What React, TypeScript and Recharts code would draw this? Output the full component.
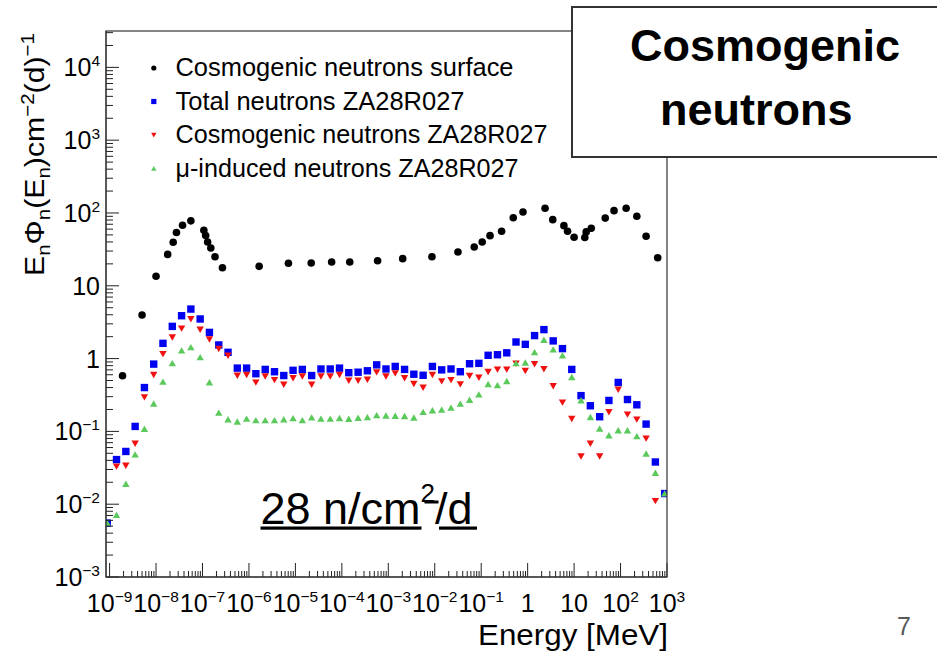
import React from 'react';
import { ScatterChart, Scatter, XAxis, YAxis } from 'recharts';

const FONT = '"Liberation Sans", Arial, Helvetica, sans-serif';

// Bin-centre energies (MeV) of the ZA28R027 histograms
const binEnergy = [
  8.91e-10, 1.41e-9, 2.24e-9, 3.55e-9, 5.62e-9,
  8.91e-9, 1.41e-8, 2.24e-8, 3.55e-8, 5.62e-8,
  8.91e-8, 1.41e-7, 2.24e-7, 3.55e-7, 5.62e-7,
  8.91e-7, 1.41e-6, 2.24e-6, 3.55e-6, 5.62e-6,
  8.91e-6, 1.41e-5, 2.24e-5, 3.55e-5, 5.62e-5,
  8.91e-5, 1.41e-4, 2.24e-4, 3.55e-4, 5.62e-4,
  8.91e-4, 1.41e-3, 2.24e-3, 3.55e-3, 5.62e-3,
  8.91e-3, 1.41e-2, 2.24e-2, 3.55e-2, 5.62e-2,
  8.91e-2, 0.141, 0.224, 0.355, 0.562,
  0.891, 1.41, 2.24, 3.55, 5.62,
  8.91, 14.1, 22.4, 35.5, 56.2,
  89.1, 141, 224, 355, 562,
  891,
];

const totalNeutrons = [
  0.0055, 0.041, 0.053, 0.117, 0.40, 0.84, 1.62, 2.77, 3.88, 4.79,
  3.5, 2.29, 1.54, 1.22, 0.74, 0.74, 0.62, 0.71, 0.66, 0.585,
  0.69, 0.71, 0.585, 0.72, 0.72, 0.74, 0.64, 0.65, 0.68, 0.82,
  0.72, 0.78, 0.71, 0.61, 0.59, 0.78, 0.70, 0.72, 0.66, 0.85,
  0.86, 1.11, 1.13, 1.2, 1.69, 1.57, 2.07, 2.5, 1.75, 1.37,
  0.71, 0.31, 0.225, 0.159, 0.266, 0.47, 0.274, 0.232, 0.126, 0.038,
  0.014,
];

const cosmogenicNeutrons = [
  null, 0.033, 0.034, 0.068, 0.295, 0.60, 1.16, 1.96, 2.6, 3.5,
  2.5, 1.84, 1.36, 1.1, 0.585, 0.60, 0.47, 0.57, 0.51, 0.44,
  0.54, 0.57, 0.44, 0.57, 0.57, 0.60, 0.50, 0.50, 0.515, 0.65,
  0.57, 0.63, 0.54, 0.45, 0.40, 0.60, 0.49, 0.51, 0.445, 0.58,
  0.55, 0.66, 0.71, 0.71, 0.855, 0.68, 0.84, 0.72, 0.42, 0.25,
  0.149, 0.0455, 0.068, 0.0455, 0.184, 0.376, 0.171, 0.146, 0.080, 0.0111,
  null,
];

const muInducedNeutrons = [
  0.0055, 0.0071, 0.019, 0.048, 0.108, 0.24, 0.48, 0.86, 1.29, 1.43,
  1.04, 0.47, 0.18, 0.146, 0.136, 0.149, 0.142, 0.142, 0.142, 0.146,
  0.151, 0.142, 0.155, 0.149, 0.149, 0.152, 0.148, 0.153, 0.156, 0.166,
  0.164, 0.163, 0.162, 0.154, 0.184, 0.194, 0.198, 0.211, 0.239, 0.27,
  0.32, 0.445, 0.43, 0.49, 0.86, 0.88, 1.22, 1.8, 1.33, 1.1,
  0.555, 0.266, 0.157, 0.109, 0.088, 0.103, 0.103, 0.0855, 0.0495, 0.0269,
  0.014,
];

// Surface cosmogenic spectrum
const surfaceEnergy = [
  1.9e-9, 5.0e-9, 1.0e-8, 1.78e-8, 2.34e-8, 2.75e-8, 3.72e-8, 5.62e-8,
  1.07e-7, 1.17e-7, 1.29e-7, 1.51e-7, 1.86e-7, 2.69e-7,
  1.66e-6, 7.08e-6, 2.19e-5, 6.03e-5, 1.48e-4, 5.89e-4, 2.04e-3, 8.71e-3,
  3.16e-2, 7.08e-2, 0.105, 0.155, 0.275, 0.49, 0.794,
  2.37, 3.47, 6.03, 7.24, 10.0, 17.0, 18.2, 23.4, 46.8, 72.4, 132, 224, 355, 631,
];
const surfaceFlux = [
  0.58, 3.97, 13.5, 27, 39.6, 54, 68, 78,
  58, 49, 40, 33, 25, 17.7,
  18.5, 20.4, 20.6, 21.2, 21.2, 22.1, 23.6, 25.1,
  29.1, 34.1, 40, 48.8, 56, 86, 103,
  116, 81, 67, 56, 46.4, 46, 55, 61.6, 85, 107.6, 116, 90, 47.9, 24.3,
];

const xDecades = [1e-9, 1e-8, 1e-7, 1e-6, 1e-5, 1e-4, 1e-3, 1e-2, 1e-1, 1, 10, 100, 1000];
const yDecades = [1e-3, 1e-2, 1e-1, 1, 10, 100, 1000, 10000];
const xDomain = [8.37e-10, 1000];
const yDomain = [1e-3, 31600];

const legendLabels = [
  'Cosmogenic neutrons surface',
  'Total neutrons ZA28R027',
  'Cosmogenic neutrons ZA28R027',
  'μ-induced neutrons ZA28R027',
];
const legendWidths = [338, 289, 372, 343];

const COLORS = { surface: '#000000', total: '#0000f0', cosmo: '#f01010', mu: '#5cc95c' };

function buildTicks(decades: number[], lo: number, hi: number) {
  const out: number[] = [];
  decades.forEach((d) => {
    for (let m = 1; m <= 9; m++) {
      const v = m * d;
      if (v >= lo * 0.999 && v <= hi * 1.001) out.push(v);
    }
  });
  return out;
}
const xTicks = buildTicks(xDecades, xDomain[0], xDomain[1]);
const yTicks = buildTicks(yDecades, yDomain[0], yDomain[1]);

const toPoints = (es: number[], vs: (number | null)[]) =>
  es.map((e, i) => ({ e, v: vs[i] })).filter((p) => p.v != null && (p.v as number) > 0);

const surfaceData = toPoints(surfaceEnergy, surfaceFlux);
const totalData = toPoints(binEnergy, totalNeutrons);
const cosmoData = toPoints(binEnergy, cosmogenicNeutrons);
const muData = toPoints(binEnergy, muInducedNeutrons);

function decadeInfo(v: number) {
  const l = Math.log10(v);
  const exp = Math.round(l);
  const major = Math.abs(l - exp) < 1e-6;
  return { exp, major };
}

const LABEL_SIZE = 25;
const SUP_SIZE = 15.5;

function Label10({ exp, x, y, anchor }: { exp: number; x: number; y: number; anchor: string }) {
  if (exp === 0 || exp === 1) {
    return (
      <text x={x} y={y} textAnchor={anchor} fontFamily={FONT} fontSize={LABEL_SIZE} fill="#000">
        {exp === 0 ? '1' : '10'}
      </text>
    );
  }
  const sup = exp < 0 ? `\u2212${-exp}` : `${exp}`;
  return (
    <text x={x} y={y} textAnchor={anchor} fontFamily={FONT} fontSize={LABEL_SIZE} fill="#000">
      10
      <tspan dy={-10} fontSize={SUP_SIZE}>{sup}</tspan>
    </text>
  );
}

const XTick = (props: any) => {
  const { x, y, payload } = props;
  const { exp, major } = decadeInfo(payload.value);
  return (
    <g>
      <line x1={x} x2={x} y1={y} y2={y - (major ? 14 : 6)} stroke="#222" strokeWidth={1} />
      {major && <Label10 exp={exp} x={x} y={y + 35} anchor="middle" />}
    </g>
  );
};

const YTick = (props: any) => {
  const { x, y, payload } = props;
  const { exp, major } = decadeInfo(payload.value);
  return (
    <g>
      <line x1={x} x2={x + (major ? 13 : 7)} y1={y} y2={y} stroke="#222" strokeWidth={1} />
      {major && <Label10 exp={exp} x={x - 6} y={y + 9} anchor="end" />}
    </g>
  );
};

const CircleMark = (p: any) => <circle cx={p.cx} cy={p.cy} r={3.8} fill={COLORS.surface} />;
const SquareMark = (p: any) => (
  <rect x={p.cx - 3.7} y={p.cy - 3.7} width={7.4} height={7.4} fill={COLORS.total} />
);
const TriDownMark = (p: any) => (
  <path d={`M${p.cx - 3.7},${p.cy - 3} L${p.cx + 3.7},${p.cy - 3} L${p.cx},${p.cy + 3.4} Z`} fill={COLORS.cosmo} />
);
const TriUpMark = (p: any) => (
  <path d={`M${p.cx - 3.7},${p.cy + 3} L${p.cx + 3.7},${p.cy + 3} L${p.cx},${p.cy - 3.4} Z`} fill={COLORS.mu} />
);

function LegendMarker({ i, x, y }: { i: number; x: number; y: number }) {
  if (i === 0) return <circle cx={x} cy={y} r={2.6} fill={COLORS.surface} />;
  if (i === 1) return <rect x={x - 2.6} y={y - 2.6} width={5.2} height={5.2} fill={COLORS.total} />;
  if (i === 2)
    return <path d={`M${x - 2.7},${y - 2.2} L${x + 2.7},${y - 2.2} L${x},${y + 2.4} Z`} fill={COLORS.cosmo} />;
  return <path d={`M${x - 2.7},${y + 2.2} L${x + 2.7},${y + 2.2} L${x},${y - 2.4} Z`} fill={COLORS.mu} />;
}

const legendBaselines = [76, 109.5, 143, 176.5];

export default function App() {
  return (
    <div style={{ position: 'relative', width: 937, height: 653, background: '#fff', overflow: 'hidden' }}>
      <style>{'body{margin:0;overflow:hidden;background:#fff}'}</style>
      <ScatterChart width={937} height={653} margin={{ top: 31, right: 270, bottom: 0, left: 0 }}>
        <XAxis
          type="number"
          dataKey="e"
          scale="log"
          domain={xDomain}
          allowDataOverflow
          ticks={xTicks}
          interval={0}
          tickSize={0}
          tickMargin={0}
          tickLine={false}
          tick={(p: any) => <XTick {...p} />}
          axisLine={{ stroke: '#222', strokeWidth: 1 }}
          height={76}
        />
        <YAxis
          type="number"
          dataKey="v"
          scale="log"
          domain={yDomain}
          allowDataOverflow
          ticks={yTicks}
          interval={0}
          tickSize={0}
          tickMargin={0}
          tickLine={false}
          tick={(p: any) => <YTick {...p} />}
          axisLine={{ stroke: '#222', strokeWidth: 1 }}
          width={106}
        />
        <Scatter name={legendLabels[0]} data={surfaceData} shape={CircleMark} isAnimationActive={false} />
        <Scatter name={legendLabels[1]} data={totalData} shape={SquareMark} isAnimationActive={false} />
        <Scatter name={legendLabels[2]} data={cosmoData} shape={TriDownMark} isAnimationActive={false} />
        <Scatter name={legendLabels[3]} data={muData} shape={TriUpMark} isAnimationActive={false} />
      </ScatterChart>

      <svg
        width={937}
        height={653}
        style={{ position: 'absolute', left: 0, top: 0, pointerEvents: 'none' }}
      >
        {/* plot frame */}
        <rect x={106} y={31} width={561} height={546} fill="none" stroke="#333" strokeWidth={1.2} />

        {/* legend */}
        {legendLabels.map((t, i) => (
          <g key={t}>
            <LegendMarker i={i} x={153.8} y={legendBaselines[i] - 8} />
            <text
              x={175.5}
              y={legendBaselines[i]}
              fontFamily={FONT}
              fontSize={25.2}
              fill="#000"
              textLength={legendWidths[i]}
              lengthAdjust="spacingAndGlyphs"
            >
              {t}
            </text>
          </g>
        ))}

        {/* y-axis title */}
        <text
          transform="translate(44,276) rotate(-90)"
          x={0}
          y={0}
          fontFamily={FONT}
          fontSize={28}
          fill="#000"
          textLength={243}
          lengthAdjust="spacingAndGlyphs"
        >
          E<tspan dy={6} fontSize={19}>n</tspan>
          <tspan dy={-6} fontSize={28}>Φ</tspan>
          <tspan dy={6} fontSize={19}>n</tspan>
          <tspan dy={-6} fontSize={28}>(E</tspan>
          <tspan dy={6} fontSize={19}>n</tspan>
          <tspan dy={-6} fontSize={28}>)cm</tspan>
          <tspan dy={-10} fontSize={19}>{'\u22122'}</tspan>
          <tspan dy={10} fontSize={28}>(d)</tspan>
          <tspan dy={-10} fontSize={19}>{'\u22121'}</tspan>
        </text>

        {/* x-axis title */}
        <text
          x={668}
          y={645}
          textAnchor="end"
          fontFamily={FONT}
          fontSize={30}
          fill="#000"
          textLength={190}
          lengthAdjust="spacingAndGlyphs"
        >
          Energy [MeV]
        </text>

        {/* total rate annotation */}
        <text x={260.5} y={523.5} fontFamily={FONT} fontSize={45} fill="#000">
          28 n/cm
          <tspan dy={-22} fontSize={26}>2</tspan>
          <tspan dy={22} fontSize={45}>/d</tspan>
        </text>
        <rect x={260.5} y={526.5} width={161} height={3.2} fill="#000" />
        <rect x={424.5} y={500.5} width={14} height={3} fill="#000" />
        <rect x={439} y={526.5} width={38} height={3.2} fill="#000" />

        {/* title box */}
        <rect x={572} y={7} width={380} height={150} fill="#fff" stroke="#333" strokeWidth={2} />
        <text x={630} y={61} fontFamily={FONT} fontWeight="bold" fontSize={45} fill="#000">
          Cosmogenic
        </text>
        <text x={660} y={125} fontFamily={FONT} fontWeight="bold" fontSize={45} fill="#000">
          neutrons
        </text>

        {/* page number */}
        <text x={897} y={635} fontFamily={FONT} fontSize={25} fill="#595959">
          7
        </text>
      </svg>
    </div>
  );
}
